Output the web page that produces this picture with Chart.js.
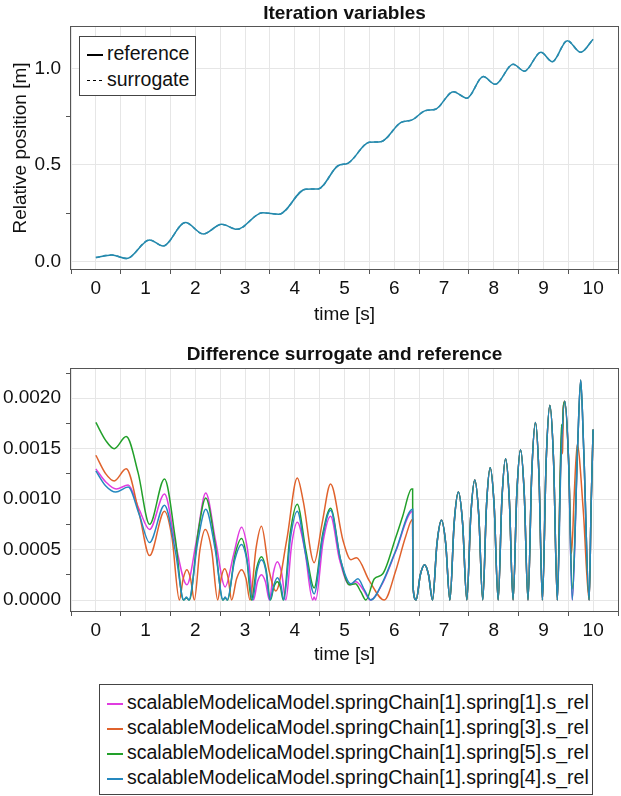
<!DOCTYPE html>
<html>
<head>
<meta charset="utf-8">
<title>Iteration variables</title>
<script src="https://cdn.jsdelivr.net/npm/chart.js@4.4.1/dist/chart.umd.min.js"></script>
<style>
  body { margin: 0; width: 621px; height: 796px; overflow: hidden; background: #fff;
         font-family: 'Liberation Sans', Arial, sans-serif; color: #111; }
  canvas { position: absolute; left: 0; }
  .legendBox { position: absolute; box-sizing: border-box; border: 1px solid #444;
               background: #fff; padding: 4px 0 0 7px; font-size: 19.5px; white-space: nowrap; }
  .legendMark { display: inline-block; vertical-align: middle; width: 16px; height: 1.5px; margin-right: 4px; }
</style>
</head>
<body>
<canvas id="posChart" width="621" height="335" style="top:0"></canvas>
<canvas id="diffChart" width="621" height="342" style="top:335px"></canvas>
<div id="posLegend" class="legendBox" style="left:79px; top:36px; width:117px; height:60px"></div>
<div id="diffLegend" class="legendBox" style="left:99px; top:684px; width:494px; height:111px; padding-top:5px"></div>
<script>
//Top panel: relative position [m] over time [s]
//reference and surrogate lie on top of each other in the picture
var posTime = [0, 0.32, 0.62, 1.08, 1.35, 1.8, 2.16, 2.53, 2.84, 3.35, 3.68, 4.22, 4.47, 4.87, 5.07, 5.5,
  5.73, 6.13, 6.36, 6.63, 6.83, 7.19, 7.46, 7.79, 8.03, 8.39, 8.62, 8.95, 9.18, 9.48, 9.75, 10];
var posReference = [0.021, 0.035, 0.016, 0.112, 0.081, 0.202, 0.143, 0.193, 0.167, 0.253, 0.245, 0.375, 0.376,
  0.496, 0.509, 0.617, 0.620, 0.719, 0.733, 0.781, 0.788, 0.879, 0.845, 0.957, 0.917, 1.021, 0.985, 1.083,
  1.034, 1.143, 1.083, 1.150];
var posSurrogate = posReference;

//Bottom panel: |surrogate - reference| per spring, up to the jump at t = 6.37
var s1Time = [0, 0.2, 0.41, 0.65, 0.87, 1.08, 1.38, 1.6, 1.83, 2.02, 2.21, 2.41, 2.6, 2.77, 2.93, 3.05, 3.17,
  3.25, 3.33, 3.41, 3.49, 3.57, 3.65, 3.735, 3.82, 3.935, 4.05, 4.2, 4.36, 4.39, 4.42, 4.57, 4.72, 4.9, 5.1,
  5.23, 5.38, 5.52, 5.77, 6.03, 6.37, 6.375];
var s1Diff = [0.0013, 0.00117, 0.0011, 0.00114, 0.0009, 0.0007, 0.00105, 0.00056, 0.00015, 0.00058, 0.00106,
  0.00058, 0.00013, 0.00045, 0.00072, 0.0005, 0, 0.00018, 0.00025, 0.00018, 0, 0.00027, 0.00038, 0.00027, 0,
  0.00054, 0.00077, 0.0005, 0, 0.00003, 0, 0.00058, 0.00083, 0.0004, 0.00015, 0.00018, 0.0001, 0, 0.00017,
  0.00048, 0.00088, 0.00015];

var s3Time = [0, 0.2, 0.37, 0.61, 0.87, 1.08, 1.38, 1.53, 1.68, 1.755, 1.83, 1.905, 1.98, 2.09, 2.2, 2.33, 2.45,
  2.52, 2.59, 2.66, 2.73, 2.83, 2.93, 3.02, 3.1, 3.22, 3.33, 3.48, 3.62, 3.84, 4.05, 4.17, 4.39, 4.55, 4.72,
  4.97, 5.13, 5.24, 5.5, 5.8, 6.03, 6.23, 6.37, 6.375];
var s3Diff = [0.001435, 0.00125, 0.00118, 0.0013, 0.00086, 0.00044, 0.00088, 0.00062, 0, 0.00021, 0.0003,
  0.00021, 0, 0.00049, 0.0007, 0.00049, 0, 0.00022, 0.00031, 0.00022, 0, 0.00021, 0.0003, 0.00021, 0, 0.00051,
  0.00073, 0.0003, 0.00009, 0.0006, 0.00121, 0.00098, 0.00037, 0.00076, 0.00115, 0.00059, 0.0004, 0.00042,
  0.00019, 0, 0.00029, 0.00063, 0.0008, 0.00015];

var s5Time = [0, 0.2, 0.37, 0.61, 0.85, 1.08, 1.38, 1.6, 1.76, 1.82, 1.88, 2.05, 2.21, 2.4, 2.55, 2.6, 2.65,
  2.79, 2.93, 3.03, 3.13, 3.23, 3.33, 3.42, 3.51, 3.58, 3.65, 3.71, 3.77, 3.91, 4.05, 4.22, 4.39, 4.56, 4.72,
  4.92, 5.1, 5.22, 5.33, 5.43, 5.6, 5.77, 6.03, 6.17, 6.35, 6.37, 6.375];
var s5Diff = [0.00176, 0.00158, 0.0015, 0.00162, 0.00126, 0.00075, 0.0012, 0.0006, 0, 0.00002, 0, 0.00065,
  0.00101, 0.00055, 0, 0.00002, 0, 0.00043, 0.00061, 0.00043, 0, 0.00031, 0.00043, 0.00031, 0, 0.00013,
  0.00018, 0.00013, 0, 0.00067, 0.00095, 0.0005, 0.00012, 0.00065, 0.00091, 0.0004, 0.00015, 0.00016, 0.00008,
  0, 0.00021, 0.00026, 0.00062, 0.00083, 0.0011, 0.0011, 0.00015];

var s4Time = [0, 0.2, 0.4, 0.65, 0.87, 1.08, 1.38, 1.6, 1.77, 1.82, 1.87, 2.05, 2.21, 2.4, 2.56, 2.6, 2.64,
  2.79, 2.93, 3.04, 3.15, 3.24, 3.33, 3.42, 3.5, 3.58, 3.65, 3.72, 3.78, 3.915, 4.05, 4.22, 4.39, 4.56, 4.72,
  4.92, 5.13, 5.27, 5.4, 5.53, 5.77, 6.03, 6.37, 6.375];
var s4Diff = [0.00128, 0.00113, 0.00107, 0.00112, 0.00085, 0.00057, 0.00094, 0.00048, 0, 0.00003, 0, 0.00058,
  0.0009, 0.0005, 0, 0.00003, 0, 0.00039, 0.00055, 0.00039, 0, 0.00029, 0.0004, 0.00029, 0, 0.00015, 0.00022,
  0.00015, 0, 0.00062, 0.00088, 0.00045, 0.00006, 0.00062, 0.00089, 0.0004, 0.00016, 0.00021, 0.0001, 0,
  0.00018, 0.00049, 0.0009, 0.00015];

//After the jump all four springs share the same curve until ~9.3 s
var tailTime = [6.44, 6.525, 6.61, 6.69, 6.77, 6.86, 6.95, 7.035, 7.12, 7.205, 7.29, 7.375, 7.46, 7.54, 7.62,
  7.70, 7.78, 7.855, 7.93, 8.01, 8.09, 8.165, 8.24, 8.315, 8.39, 8.465, 8.54, 8.615, 8.69, 8.765, 8.84, 8.91,
  8.98, 9.055, 9.13, 9.205, 9.28];
var tailDiff = [0, 0.00025, 0.00035, 0.00025, 0, 0.00056, 0.00079, 0.00056, 0, 0.00076, 0.00107, 0.00076, 0,
  0.00084, 0.00119, 0.00084, 0, 0.00093, 0.00131, 0.00093, 0, 0.00099, 0.0014, 0.00099, 0, 0.00105, 0.00149,
  0.00105, 0, 0.00125, 0.00176, 0.00125, 0, 0.00137, 0.00193, 0.00137, 0];

//Last second, where the springs split again
var s1EndTime = [9.34, 9.368, 9.38, 9.4, 9.43, 9.505, 9.58, 9.69, 9.75, 9.81, 9.92, 9.96, 10];
var s1EndDiff = [0.00125, 0.00167, 0.00158, 0.0019, 0.00197, 0.0014, 0, 0.00155, 0.00218, 0.0015, 0, 0.00095, 0.00169];
var s3EndTime = [9.34, 9.365, 9.375, 9.385, 9.4, 9.43, 9.505, 9.565, 9.62, 9.68, 9.8, 9.92, 9.96, 10];
var s3EndDiff = [0.0012, 0.00152, 0.00145, 0.00148, 0.0019, 0.00197, 0.0014, 0.00046, 0.00105, 0.00154, 0.0009, 0, 0.00095, 0.00169];
var s5EndTime = [9.34, 9.365, 9.378, 9.4, 9.43, 9.505, 9.58, 9.69, 9.75, 9.81, 9.92, 9.96, 10];
var s5EndDiff = [0.0013, 0.00174, 0.00165, 0.0019, 0.00197, 0.0014, 0.00011, 0.00155, 0.00218, 0.0015, 0, 0.00095, 0.00169];
var s4EndTime = [9.355, 9.43, 9.505, 9.58, 9.69, 9.75, 9.81, 9.92, 9.96, 10];
var s4EndDiff = [0.0014, 0.00197, 0.0014, 0, 0.00155, 0.00218, 0.0015, 0, 0.00095, 0.00169];

//Colors
var gridGray = '#e6e6e6';
var tickGray = '#555555';
var textColor = '#111111';

Chart.defaults.font.family = "'Liberation Sans', Arial, sans-serif";
Chart.defaults.font.size = 19;
Chart.defaults.color = textColor;

//--------------------------------------------------------------
function toPoints(times, vals) {
  var pts = [];
  for (var i = 0; i < times.length; i++) {
    pts.push({x: times[i], y: vals[i]});
  }
  return pts;
}

function isMultiple(v, step) {
  var q = v / step;
  return Math.abs(q - Math.round(q)) < 1e-6;
}

//Draws the axis box and centers the title over the plot area
var framePlugin = {
  id: 'frame',
  afterLayout: function (chart) {
    if (chart.titleBlock) {
      chart.titleBlock.left = chart.chartArea.left;
      chart.titleBlock.right = chart.chartArea.right;
    }
  },
  afterDraw: function (chart) {
    var a = chart.chartArea;
    var ctx = chart.ctx;
    ctx.save();
    ctx.strokeStyle = tickGray;
    ctx.lineWidth = 1;
    ctx.strokeRect(a.left - 0.5, a.top - 0.5, a.right - a.left + 1, a.bottom - a.top + 1);
    ctx.restore();
  }
};

function makeScales(yMin, yMax, yMinor, yMajor, yFormat, yTitle, xTitlePad) {
  return {
    x: {
      type: 'linear',
      min: -0.5,
      max: 10.5,
      afterFit: function (scale) { scale.height = 66; },
      ticks: {
        stepSize: 0.5,
        includeBounds: false,
        autoSkip: false,
        maxRotation: 0,
        padding: 3,
        callback: function (v) { return isMultiple(v, 1) ? String(Math.round(v)) : ''; }
      },
      grid: {
        color: gridGray,
        tickLength: 5,
        tickColor: function (c) { return isMultiple(c.tick.value, 1) ? 'transparent' : tickGray; }
      },
      border: {display: false},
      title: {display: true, text: 'time [s]', padding: {top: 0, bottom: xTitlePad}}
    },
    y: {
      type: 'linear',
      min: yMin,
      max: yMax,
      afterFit: function (scale) { scale.width = 71; },
      ticks: {
        stepSize: yMinor,
        includeBounds: false,
        autoSkip: false,
        padding: 5,
        callback: function (v) { return isMultiple(v, yMajor) ? yFormat(v) : ''; }
      },
      grid: {
        color: function (c) { return isMultiple(c.tick.value, yMajor) ? gridGray : 'transparent'; },
        tickLength: 5,
        tickColor: function (c) { return isMultiple(c.tick.value, yMajor) ? 'transparent' : tickGray; }
      },
      border: {display: false},
      title: {display: yTitle !== '', text: yTitle, padding: {top: 9, bottom: 0}}
    }
  };
}

function lineSet(label, data, color, order, dash) {
  return {
    label: label,
    data: data,
    borderColor: color,
    backgroundColor: color,
    borderWidth: 1.5,
    borderDash: dash || [],
    pointRadius: 0,
    fill: false,
    cubicInterpolationMode: 'monotone',
    order: order
  };
}

//Legend boxes are plain html, built from the datasets
function buildLegend(chart, boxId, rowHeight, markColor) {
  var box = document.getElementById(boxId);
  chart.data.datasets.forEach(function (ds) {
    var row = document.createElement('div');
    row.style.height = rowHeight + 'px';
    row.style.lineHeight = rowHeight + 'px';
    var mark = document.createElement('span');
    mark.className = 'legendMark';
    var col = markColor || ds.borderColor;
    if (ds.borderDash.length) {
      mark.style.background = 'repeating-linear-gradient(90deg,' + col + ' 0 3px, transparent 3px 6px)';
    } else {
      mark.style.background = col;
    }
    row.appendChild(mark);
    row.appendChild(document.createTextNode(ds.label));
    box.appendChild(row);
  });
}

//Top chart
var posChart = new Chart(document.getElementById('posChart'), {
  type: 'line',
  data: {
    datasets: [
      lineSet('reference', toPoints(posTime, posReference), '#1f86a9', 1),
      lineSet('surrogate', toPoints(posTime, posSurrogate), '#2a8cb0', 0, [4, 3])
    ]
  },
  options: {
    responsive: false,
    animation: false,
    layout: {padding: 0},
    plugins: {
      legend: {display: false},
      tooltip: {enabled: false},
      title: {
        display: true,
        text: 'Iteration variables',
        color: textColor,
        font: {size: 19, weight: 'bold'},
        padding: {top: 2, bottom: 2.2}
      }
    },
    scales: makeScales(-0.038, 1.2135, 0.25, 0.5, function (v) { return v.toFixed(1); },
      'Relative position [m]', 9)
  },
  plugins: [framePlugin]
});

//Bottom chart
var diffChart = new Chart(document.getElementById('diffChart'), {
  type: 'line',
  data: {
    datasets: [
      lineSet('scalableModelicaModel.springChain[1].spring[1].s_rel',
        toPoints(s1Time.concat(tailTime, s1EndTime), s1Diff.concat(tailDiff, s1EndDiff)), '#e03ce0', 3),
      lineSet('scalableModelicaModel.springChain[1].spring[3].s_rel',
        toPoints(s3Time.concat(tailTime, s3EndTime), s3Diff.concat(tailDiff, s3EndDiff)), '#e0622c', 2),
      lineSet('scalableModelicaModel.springChain[1].spring[5].s_rel',
        toPoints(s5Time.concat(tailTime, s5EndTime), s5Diff.concat(tailDiff, s5EndDiff)), '#22a02a', 1),
      lineSet('scalableModelicaModel.springChain[1].spring[4].s_rel',
        toPoints(s4Time.concat(tailTime, s4EndTime), s4Diff.concat(tailDiff, s4EndDiff)), '#2588bf', 0)
    ]
  },
  options: {
    responsive: false,
    animation: false,
    layout: {padding: 0},
    plugins: {
      legend: {display: false},
      tooltip: {enabled: false},
      title: {
        display: true,
        text: 'Difference surrogate and reference',
        color: textColor,
        font: {size: 19, weight: 'bold'},
        padding: {top: 8.6, bottom: 2.6}
      }
    },
    scales: makeScales(-0.000109, 0.00229, 0.00025, 0.0005,
      function (v) { return Math.abs(v).toFixed(4); }, '', 11)
  },
  plugins: [framePlugin]
});

buildLegend(posChart, 'posLegend', 25.7, '#000000');
buildLegend(diffChart, 'diffLegend', 25);
</script>
</body>
</html>
